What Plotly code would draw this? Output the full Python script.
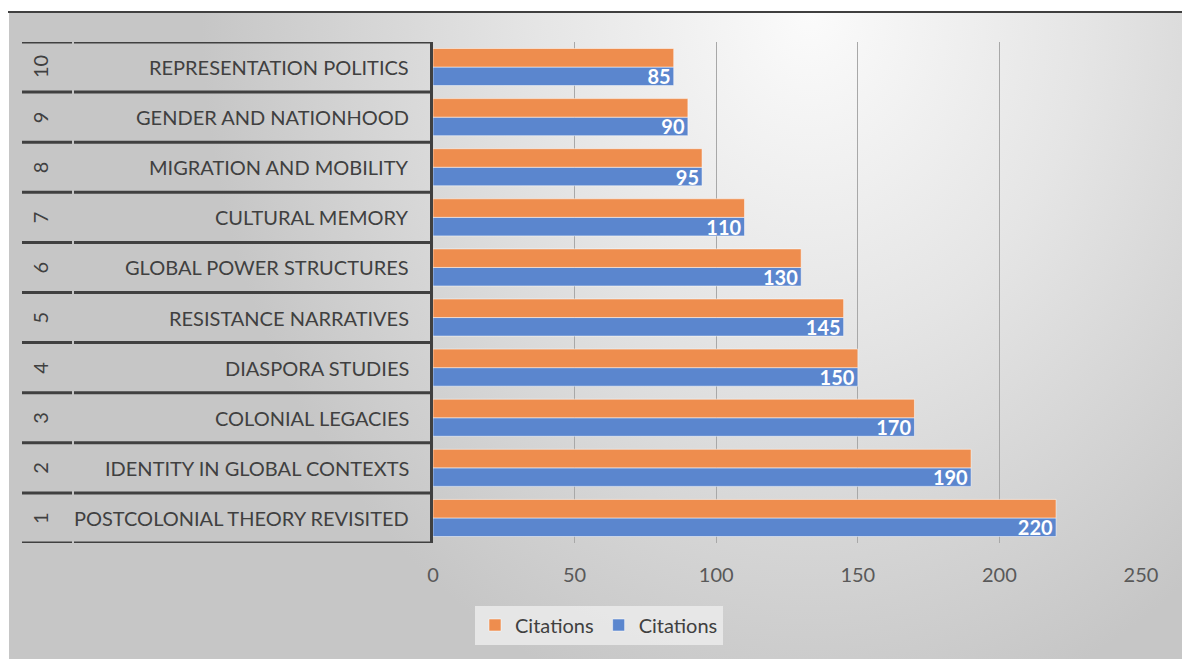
import base64
import plotly.graph_objects as go

ranks = [1, 2, 3, 4, 5, 6, 7, 8, 9, 10]
topics = [
    "POSTCOLONIAL THEORY REVISITED",
    "IDENTITY IN GLOBAL CONTEXTS",
    "COLONIAL LEGACIES",
    "DIASPORA STUDIES",
    "RESISTANCE NARRATIVES",
    "GLOBAL POWER STRUCTURES",
    "CULTURAL MEMORY",
    "MIGRATION AND MOBILITY",
    "GENDER AND NATIONHOOD",
    "REPRESENTATION POLITICS",
]
citations_orange = [220, 190, 170, 150, 145, 130, 110, 95, 90, 85]
citations_blue = [220, 190, 170, 150, 145, 130, 110, 95, 90, 85]
series_names = ["Citations", "Citations"]
x_ticks = [0, 50, 100, 150, 200, 250]

# body margin is removed by post_script, so figure coords == screen coords
W, H = 1182, 659
SL, SR, ST, SB = 433, 1141, 42, 543  # plot area in screen pixels
L, T = SL, ST
R = W - SR
B = H - SB
PW, PH = SR - SL, SB - ST


def px(xs):
    return (xs - SL) / PW


def py(ys):
    return (SB - ys) / PH


FONT = "Lato"
TXT = "#404040"

fig = go.Figure()
fig.add_trace(go.Bar(
    y=ranks, x=citations_blue, name=series_names[1], orientation="h",
    marker=dict(color="#5B86CE", line=dict(color="rgba(255,255,255,0.5)", width=1)),
    texttemplate="<b>%{x}</b>", textposition="inside", insidetextanchor="end",
    constraintext="none", textangle=0,
    textfont=dict(family=FONT, size=20, color="white"),
    legendrank=2,
))
fig.add_trace(go.Bar(
    y=ranks, x=citations_orange, name=series_names[0], orientation="h",
    marker=dict(color="#EE8D4E", line=dict(color="rgba(255,255,255,0.5)", width=1)),
    legendrank=1,
))

# background gradient
svg = (
    '<svg xmlns="http://www.w3.org/2000/svg" width="1173" height="646" '
    'viewBox="0 0 1173 646" preserveAspectRatio="none">'
    '<defs><radialGradient id="g" gradientUnits="userSpaceOnUse" cx="800" cy="0" r="760" '
    'gradientTransform="translate(800,0) scale(0.8,0.95) translate(-800,0)">'
    '<stop offset="0" stop-color="#fbfbfb"/>'
    '<stop offset="0.45" stop-color="#e5e5e5"/>'
    '<stop offset="1" stop-color="#c6c6c6"/>'
    '</radialGradient></defs>'
    '<rect width="1173" height="646" fill="url(#g)"/></svg>'
)
src = "data:image/svg+xml;base64," + base64.b64encode(svg.encode()).decode()
fig.add_layout_image(dict(
    source=src, xref="paper", yref="paper",
    x=px(9), y=py(13), sizex=px(W + 2) - px(9), sizey=py(13) - py(H + 2),
    xanchor="left", yanchor="top", sizing="stretch", layer="below",
))

shapes = []
# top border line
shapes.append(dict(type="line", xref="paper", yref="paper",
                   x0=px(8), x1=px(W + 2), y0=py(12), y1=py(12),
                   line=dict(color="#404040", width=2)))
# category bracket lines
for i in range(len(ranks) + 1):
    yv = 0.5 + i
    shapes.append(dict(type="line", xref="paper", yref="y",
                       x0=px(22), x1=px(72), y0=yv, y1=yv,
                       line=dict(color="#404040", width=3)))
    shapes.append(dict(type="line", xref="paper", yref="y",
                       x0=px(74), x1=0, y0=yv, y1=yv,
                       line=dict(color="#404040", width=3)))
fig.update_layout(shapes=shapes)

annotations = []
for r, t in zip(ranks, topics):
    annotations.append(dict(xref="paper", yref="y", x=px(411), y=r, text=t,
                            showarrow=False, xanchor="right", yanchor="middle",
                            font=dict(family=FONT, size=20, color=TXT)))
    annotations.append(dict(xref="paper", yref="y", x=px(40), y=r, text=str(r),
                            showarrow=False, xanchor="center", yanchor="middle",
                            textangle=-90,
                            font=dict(family=FONT, size=20, color=TXT)))
fig.update_layout(annotations=annotations)

fig.update_layout(
    width=W, height=H,
    margin=dict(l=L, r=R, t=T, b=B),
    paper_bgcolor="white", plot_bgcolor="rgba(0,0,0,0)",
    barmode="group", bargap=0.26, bargroupgap=0,
    font=dict(family=FONT, size=20, color=TXT),
    showlegend=True,
    legend=dict(orientation="h", x=px(599), y=py(625), xanchor="center", yanchor="middle",
                bgcolor="rgba(235,235,235,0.85)", font=dict(family=FONT, size=20, color=TXT),
                itemwidth=30, traceorder="normal"),
    xaxis=dict(range=[0, 250], tickvals=x_ticks, showgrid=True, gridcolor="#a8a8a8",
               gridwidth=1, zeroline=False, showline=False, ticks="",
               ticklabelstandoff=18, tickfont=dict(family=FONT, size=20, color="#595959")),
    yaxis=dict(range=[0.5, 10.5], tickvals=ranks, showticklabels=False, showgrid=False,
               zeroline=False, showline=True, linecolor="#404040", linewidth=3, ticks=""),
)

fig.write_html(
    "out.html",
    config={"displayModeBar": False},
    post_script="document.body.style.margin='0';"
                "document.body.style.overflow='hidden';"
                "document.documentElement.style.overflow='hidden';",
)
